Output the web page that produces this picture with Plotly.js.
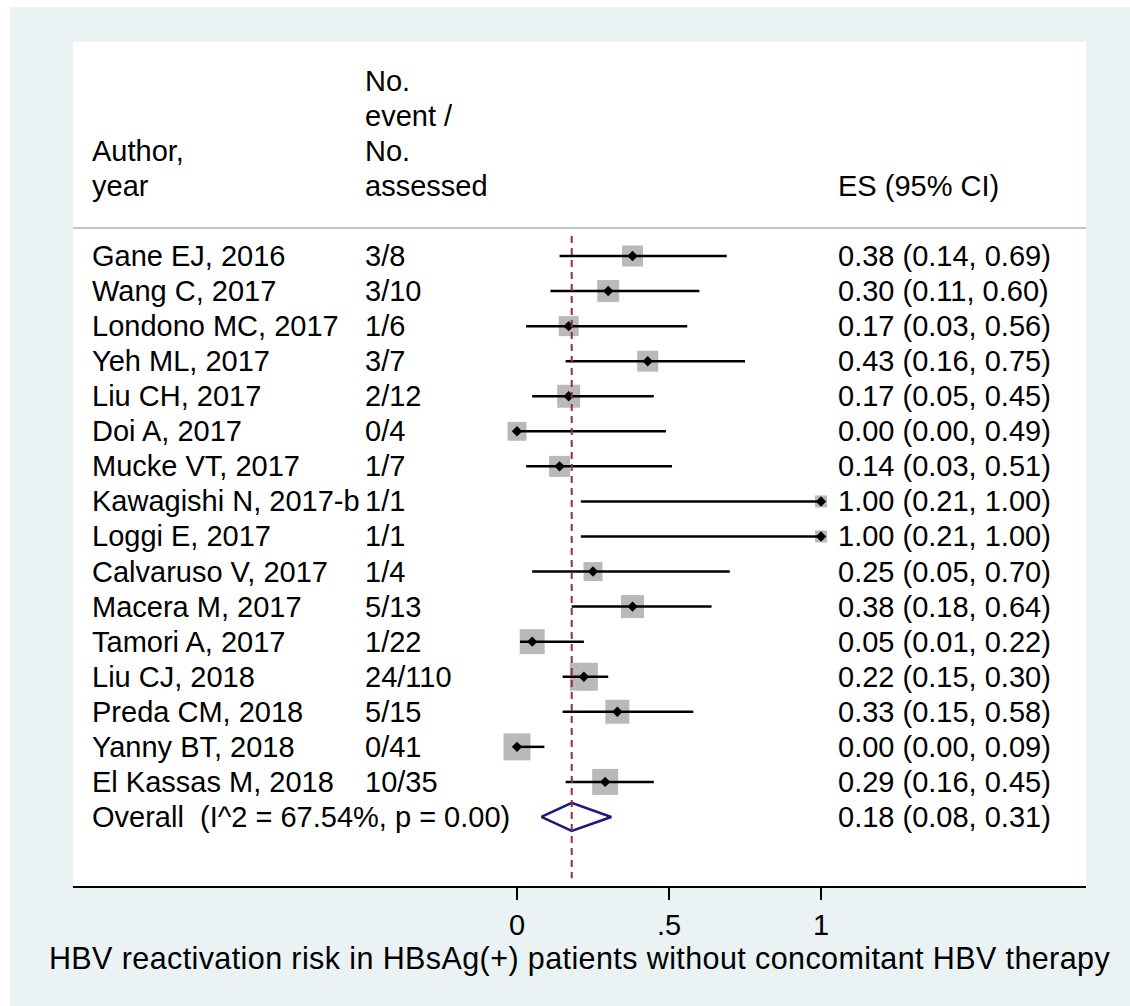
<!DOCTYPE html>
<html>
<head>
<meta charset="utf-8">
<script src="https://cdn.plot.ly/plotly-3.0.1.min.js"></script>
<style>
  html, body { margin: 0; padding: 0; background: #ffffff; }
  #chart { position: absolute; left: 10px; top: 7px; width: 1120px; height: 999px; }
  .g-xtitle text { letter-spacing: 0.4px; }
</style>
</head>
<body>
<div id="chart"></div>
<script>
// ---- data ----
const authors = ['Gane EJ, 2016', 'Wang C, 2017', 'Londono MC, 2017', 'Yeh ML, 2017', 'Liu CH, 2017',
  'Doi A, 2017', 'Mucke VT, 2017', 'Kawagishi N, 2017-b', 'Loggi E, 2017', 'Calvaruso V, 2017',
  'Macera M, 2017', 'Tamori A, 2017', 'Liu CJ, 2018', 'Preda CM, 2018', 'Yanny BT, 2018', 'El Kassas M, 2018'];
const events = ['3/8', '3/10', '1/6', '3/7', '2/12', '0/4', '1/7', '1/1', '1/1', '1/4', '5/13', '1/22',
  '24/110', '5/15', '0/41', '10/35'];
const es = [0.38, 0.30, 0.17, 0.43, 0.17, 0.00, 0.14, 1.00, 1.00, 0.25, 0.38, 0.05, 0.22, 0.33, 0.00, 0.29];
const lo = [0.14, 0.11, 0.03, 0.16, 0.05, 0.00, 0.03, 0.21, 0.21, 0.05, 0.18, 0.01, 0.15, 0.15, 0.00, 0.16];
const hi = [0.69, 0.60, 0.56, 0.75, 0.45, 0.49, 0.51, 1.00, 1.00, 0.70, 0.64, 0.22, 0.30, 0.58, 0.09, 0.45];
// estimated study weights (%)
const weights = [5.75, 6.31, 5.22, 5.75, 6.90, 4.71, 5.75, 1.88, 1.88, 4.71, 6.90, 8.15, 10.23, 7.51, 9.51, 8.82];
const overall = { es: 0.18, lo: 0.08, hi: 0.31, i2: '67.54%', p: '0.00' };
const tickVals = [0, 0.5, 1];
const tickText = ['0', '.5', '1'];
const xTitle = 'HBV reactivation risk in HBsAg(+) patients without concomitant HBV therapy';

// ---- build ----
const FONT = 'Liberation Sans, Arial, Helvetica, sans-serif';
const FS = 29;
const rows = authors.map((_, i) => i + 1);
const overallRow = authors.length + 1;

const ciX = [], ciY = [];
rows.forEach((r, i) => { ciX.push(lo[i], hi[i], null); ciY.push(r, r, null); });

const boxes = {
  type: 'scatter', mode: 'markers', x: es, y: rows, hoverinfo: 'skip',
  marker: { symbol: 'square', color: '#b9b9b9', opacity: 1, size: weights.map(w => 8.75 * Math.sqrt(w)), line: { width: 0 } }
};
const ci = {
  type: 'scatter', mode: 'lines', x: ciX, y: ciY, hoverinfo: 'skip',
  line: { color: '#000000', width: 2.5 }
};
const pts = {
  type: 'scatter', mode: 'markers', x: es, y: rows, hoverinfo: 'skip',
  marker: { symbol: 'diamond', color: '#000000', opacity: 1, size: 8, line: { width: 0 } }
};
const dh = 0.40;
const diamond = {
  type: 'scatter', mode: 'lines', hoverinfo: 'skip',
  x: [overall.lo, overall.es, overall.hi, overall.es, overall.lo],
  y: [overallRow, overallRow - dh, overallRow, overallRow + dh, overallRow],
  line: { color: '#1a1a7e', width: 2.5 }
};
const refLine = {
  type: 'scatter', mode: 'lines', hoverinfo: 'skip',
  x: [overall.es, overall.es], y: [0.43, 18.75],
  line: { color: '#973036', width: 2, dash: '7px,5px' }
};

const colAuthor = -1.404, colEvent = -0.5066, colES = 1.049;
const ann = [];
function txt(x, y, t) {
  ann.push({ x: x, y: y, xref: 'x', yref: 'y', text: t, showarrow: false, xanchor: 'left', yanchor: 'middle',
    font: { family: FONT, size: FS, color: '#000000' } });
}
// header (one text line per row slot above the studies)
txt(colEvent, -4, 'No.');
txt(colEvent, -3, 'event /');
txt(colEvent, -2, 'No.');
txt(colEvent, -1, 'assessed');
txt(colAuthor, -2, 'Author,');
txt(colAuthor, -1, 'year');
txt(colES, -1, 'ES (95% CI)');
rows.forEach((r, i) => {
  txt(colAuthor, r, authors[i]);
  txt(colEvent, r, events[i]);
  txt(colES, r, es[i].toFixed(2) + ' (' + lo[i].toFixed(2) + ', ' + hi[i].toFixed(2) + ')');
});
txt(colAuthor, overallRow, 'Overall\u00a0\u00a0(I^2 = ' + overall.i2 + ', p = ' + overall.p + ')');
txt(colES, overallRow, overall.es.toFixed(2) + ' (' + overall.lo.toFixed(2) + ', ' + overall.hi.toFixed(2) + ')');

const layout = {
  width: 1120, height: 999,
  margin: { l: 63, r: 44, t: 35, b: 120, pad: 0 },
  paper_bgcolor: '#eaf2f3', plot_bgcolor: '#ffffff',
  showlegend: false,
  font: { family: FONT, size: FS, color: '#000000' },
  xaxis: {
    range: [-1.4605, 1.8717], showgrid: false, zeroline: false, showline: true,
    linecolor: '#000000', linewidth: 2, ticks: 'outside', ticklen: 12, tickwidth: 2, tickcolor: '#000000',
    tickvals: tickVals, ticktext: tickText, tickfont: { family: FONT, size: FS, color: '#000000' },
    title: { text: xTitle, font: { family: FONT, size: 30.5, color: '#000000' }, standoff: 4 },
    fixedrange: true, automargin: false
  },
  yaxis: {
    range: [18.969, -5.104], visible: false, showgrid: false, zeroline: false, fixedrange: true
  },
  shapes: [{
    type: 'line', xref: 'paper', yref: 'y', x0: 0, x1: 1, y0: 0.201, y1: 0.201,
    line: { color: '#c4c4c4', width: 2 }
  }],
  annotations: ann
};

Plotly.newPlot('chart', [boxes, ci, pts, diamond, refLine], layout, { displayModeBar: false, staticPlot: true });
</script>
</body>
</html>
